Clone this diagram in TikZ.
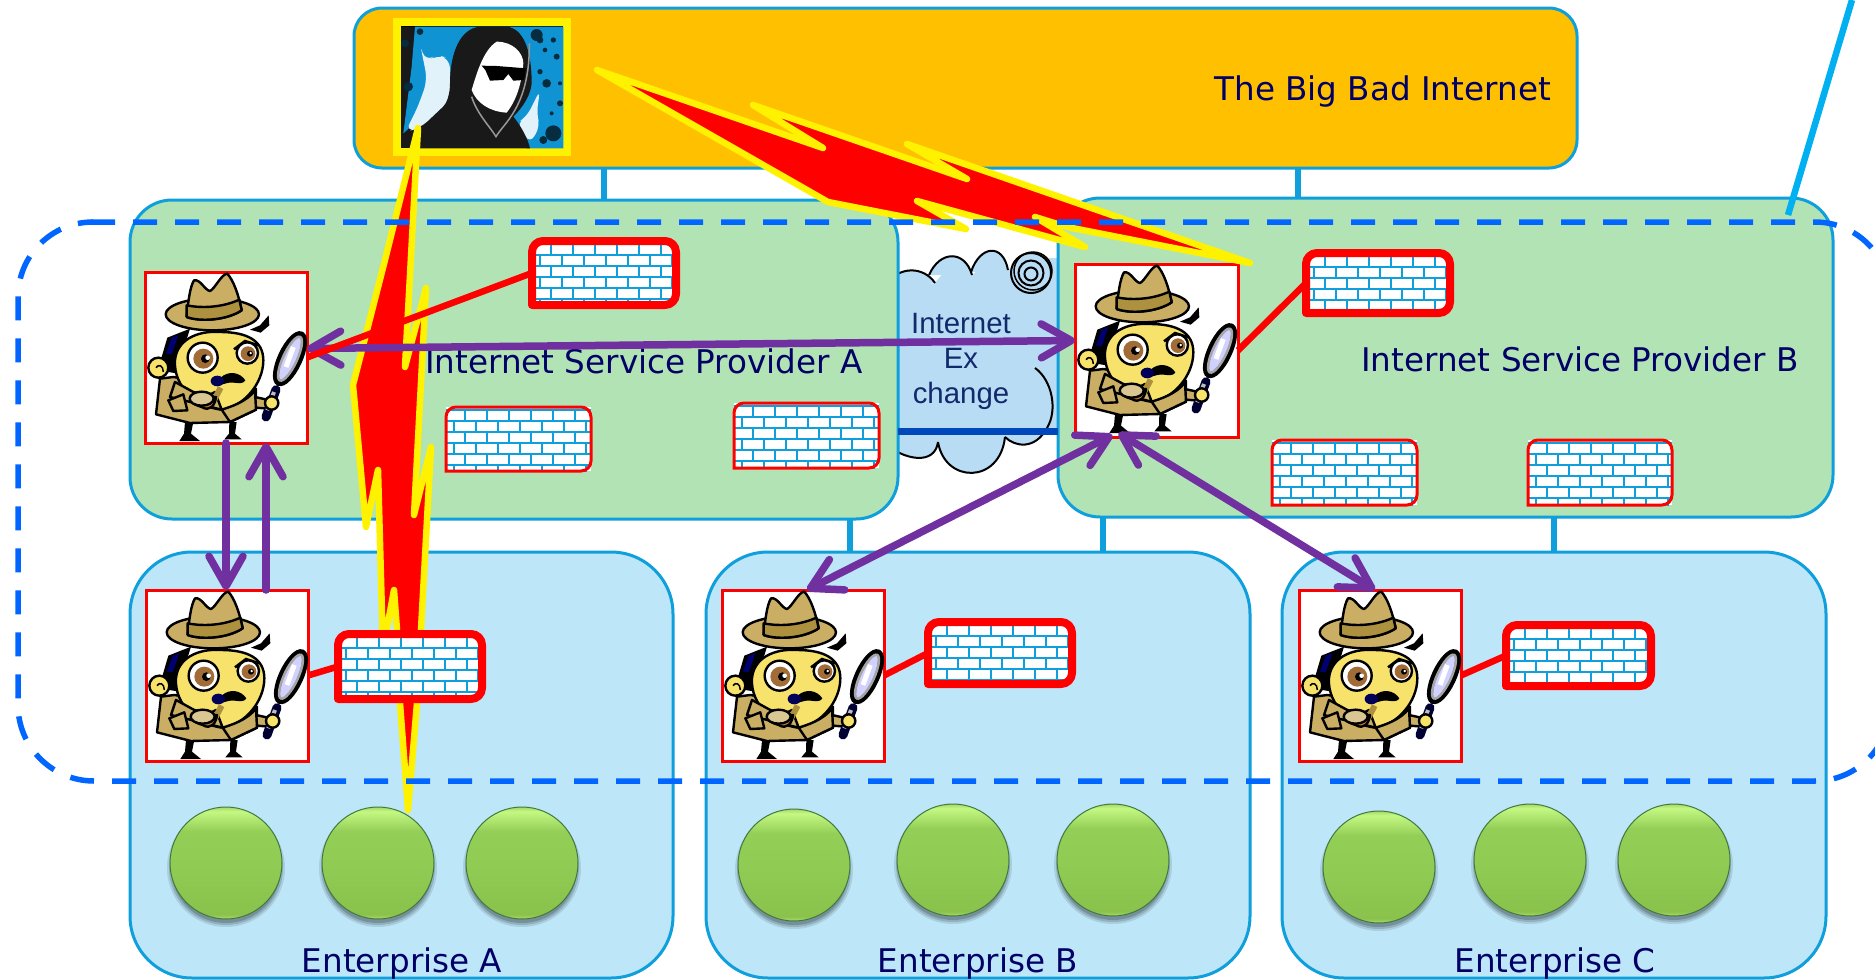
\documentclass[tikz,border=0pt]{standalone}
\usepackage{fontspec}
\setmainfont{DejaVu Sans}
\newfontfamily\arialf{Liberation Sans}
\usetikzlibrary{arrows.meta,calc,positioning}
\definecolor{navyt}{HTML}{000066}
\definecolor{edgeb}{HTML}{0E9FDC}
\definecolor{orangeb}{HTML}{FFC000}
\definecolor{greenb}{HTML}{B2E3B5}
\definecolor{skyb}{HTML}{BDE6F8}
\definecolor{cloudb}{HTML}{B8DCF4}
\definecolor{purp}{HTML}{7030A0}
\definecolor{dashb}{HTML}{0066FF}
\definecolor{tan1}{HTML}{C9AE63}
\definecolor{tan2}{HTML}{AD913F}
\definecolor{yel1}{HTML}{F7E26B}
\definecolor{uplinkc}{HTML}{00B0F0}
\definecolor{barc}{HTML}{0047BB}
\definecolor{ixpt}{HTML}{12296B}
\definecolor{splash}{HTML}{1093D2}
\definecolor{bsa}{HTML}{AEDC6C}
\definecolor{bsb}{HTML}{8AC24C}
\definecolor{bsc}{HTML}{8FCA52}
\definecolor{bsd}{HTML}{93CE56}
\definecolor{bse}{HTML}{B4EA74}
\definecolor{bsf}{HTML}{C3F882}
\definecolor{bsg}{HTML}{A8D868}
\pgfdeclareverticalshading{ballshade}{100bp}{color(0bp)=(bsa); color(25bp)=(bsa); color(27bp)=(bsb); color(45bp)=(bsc); color(64bp)=(bsd); color(70bp)=(bse); color(73bp)=(bsf); color(75bp)=(bsg); color(100bp)=(bsg)}
\tikzset{
  inetbox/.style={draw=edgeb,line width=3pt,fill=orangeb,rounded corners=28pt,anchor=north west,inner sep=0pt,outer sep=0pt},
  ispbox/.style={draw=edgeb,line width=3pt,fill=greenb,rounded corners=42pt,anchor=north west,inner sep=0pt,outer sep=0pt},
  entbox/.style={draw=edgeb,line width=3pt,fill=skyb,rounded corners=62pt,anchor=north west,inner sep=0pt,outer sep=0pt},
  stub/.style={draw=edgeb,line width=5.5pt},
  wallnode/.style={inner sep=0pt,outer sep=0pt},
  brick/.style={draw=edgeb,line width=2.4pt},
  thickwall/.style={draw=red,line width=8pt,rounded corners=11pt,line join=round},
  thinwall/.style={draw=red,line width=3pt,rounded corners=10pt},
  sleuthbox/.style={draw=red,line width=3pt,fill=white,anchor=north west,inner sep=0pt,outer sep=0pt},
  redlink/.style={draw=red,line width=6.5pt},
  bolt/.style={draw=yellow,fill=red,line width=6.5pt,line join=round},
  spy/.style={draw=purp,line width=7.5pt,line cap=round,>={Straight Barb[round,length=30pt,width=34pt,line width=7.5pt]}},
  perim/.style={draw=dashb,line width=5.5pt,dash pattern=on 24pt off 18pt},
  label/.style={text=navyt,font=\fontsize{32.6}{38}\selectfont,inner sep=0pt},
  ball/.style={circle,minimum size=112pt,inner sep=0pt,outer sep=0pt,shading=ballshade,draw=black!55!green!50!gray,line width=1pt},
  ink/.style={draw=black,line width=2.4pt,line join=round},
}
\newcommand\brickwall[6]{%
  \node[name=#1,wallnode,minimum width={(#4-#2)*1pt},minimum height={(#5-#3)*1pt}] at ({(#2+#4)/2},{(#3+#5)/2}) {};
  \begin{scope}
    \clip (#1.south west) rectangle (#1.north east);
    \fill[white] (#1.south west) rectangle (#1.north east);
    \foreach \r in {0,...,6} {
      \pgfmathsetmacro\yy{#3+\r*11+3}
      \pgfmathsetmacro\off{mod(\r,2)*11}
      \draw[brick] (#2,\yy) -- (#4,\yy);
      \foreach \k in {0,...,7} {
        \pgfmathsetmacro\xx{#2+\off+\k*22-3}
        \draw[brick] (\xx,\yy) -- (\xx,{\yy+11});
      }
    }
  \end{scope}
  \draw[#6] (#1.south west) -- (#1.north west) -- (#1.north east) -- (#1.south east) [sharp corners] -- cycle;
}
\newcommand\sleuth[1]{%
  \begin{scope}[shift={(#1.north west)},scale=1/3,shift={(-45,-65)}]
    \fill[black] (165,515)--(190,515)--(183,550)--(210,572)--(148,572)--(162,550)--cycle;
    \fill[black] (298,515)--(320,515)--(315,550)--(335,567)--(283,567)--(297,550)--cycle;
    \draw[ink,fill=tan1] (90,385)--(78,492)--(180,518)--(300,515)--(378,478)--(378,415)--(260,400)--(130,380)--cycle;
    \draw[ink,fill=tan1] (375,440)--(420,450)--(415,475)--(378,472)--cycle;
    \fill[black] (95,320)--(112,262)--(180,235)--(160,300)--(145,370)--(115,365)--cycle;
    \fill[blue!45!black] (108,310)--(125,262)--(145,255)--(125,312)--cycle;
    \draw[ink,fill=yel1] (135,330) .. controls (140,270) and (200,240) .. (270,245) .. controls (350,245) and (400,270) .. (400,330) .. controls (400,400) and (340,470) .. (275,478) .. controls (200,470) and (130,410) .. (135,330);
    \draw[ink,fill=tan1] (275,478)--(255,425)--(235,435)--(190,425)--(135,395)--(120,440)--cycle;
    \draw[ink,fill=tan1] (275,478) .. controls (300,470) and (350,455) .. (375,420) -- (378,478) -- (300,515) -- cycle;
    \fill[black] (360,238)--(390,225)--(416,195)--(418,225)--(392,247)--cycle;
    \draw[black,line width=2.5pt] (312,297)--(345,272)--(385,285);
    \draw[ink,fill=yel1] (85,352) circle[radius=30];
    \draw[black,line width=1.5pt] (78,352) .. controls (85,340) and (100,345) .. (100,365);
    \draw[ink,fill=tan1] (247,192) circle[x radius=140,y radius=48];
    \draw[ink,fill=tan1] (170,200) .. controls (175,150) and (180,110) .. (192,90) .. controls (210,85) and (225,120) .. (240,122) .. controls (255,115) and (275,70) .. (292,70) .. controls (310,90) and (325,130) .. (335,180) .. controls (290,210) and (210,215) .. (170,200);
    \draw[ink,fill=tan2] (170,165) .. controls (220,175) and (280,170) .. (328,148) -- (335,180) .. controls (290,210) and (210,215) .. (170,200) -- cycle;
    \draw[ink,fill=white] (218,322) circle[radius=45];
    \fill[brown!85!black] (220,325) circle[radius=30];
    \fill[black] (226,325) circle[radius=13];
    \fill[white] (233,322) circle[radius=7];
    \draw[ink,fill=white] (352,308) circle[radius=32];
    \fill[brown!85!black] (354,310) circle[radius=22];
    \fill[black] (360,310) circle[radius=9];
    \fill[white] (362,308) circle[radius=4];
    \fill[black] (272,382) .. controls (295,360) and (330,365) .. (346,390) .. controls (335,408) and (310,390) .. (285,400) -- (265,405) -- cycle;
    \fill[blue!35!black] (262,392) circle[x radius=20,y radius=16];
    \draw[line width=6pt,draw=tan2] (252,450)--(272,412);
    \draw[ink,fill=brown!80!orange] (215,470) .. controls (240,485) and (255,465) .. (258,440) -- (180,445) .. controls (185,460) and (200,465) .. (215,470);
    \draw[ink,fill=tan1!70!white] (215,445) circle[x radius=36,y radius=21];
    \draw[ink,fill=tan1] (115,450) -- (160,432) -- (172,480) -- (130,482) -- cycle;
    \draw[line width=9pt,draw=blue!20!black,line cap=round] (438,418)--(408,500);
    \draw[line width=4pt,draw=gray!50!white] (432,425)--(412,480);
    \draw[ink,fill=yel1] (425,458) circle[radius=20];
    \draw[draw=black,line width=6pt,fill=blue!18!white] (480,325) ellipse[x radius=28,y radius=80,rotate=-25];
    \draw[draw=gray!70!white,line width=2.5pt] (480,325) ellipse[x radius=21,y radius=72,rotate=-25];
    \draw[draw=white,line width=5pt] (468,350)--(490,290);
  \end{scope}
}
\begin{document}
\begin{tikzpicture}[x=1pt,y=-1pt]
\clip (0,0) rectangle (1875,980);
\fill[white] (0,0) rectangle (1875,980);

% cloud
\fill[cloudb] (880,290)--(900,278)--(934,284)--(950,265)--(972,275)--(993,258)--(1008,270)--(1031,258)--(1060,258)--(1060,431)--(1045,431)--(1030,443)--(1005,437)--(985,465)--(960,468)--(938,442)--(910,455)--(880,440)--cycle;
\draw[black,line width=2pt,fill=cloudb] (880,290) .. controls (900,262) and (925,268) .. (935,283);
\draw[black,line width=2pt,fill=cloudb] (929,275) .. controls (940,250) and (965,250) .. (972,275);
\draw[black,line width=2pt,fill=cloudb] (971,272) .. controls (980,245) and (1003,243) .. (1008,270);
\draw[black,line width=2pt,fill=cloudb] (1031,273) circle[radius=20];
\draw[black,line width=1.5pt] (1033,271) circle[radius=19];
\draw[black,line width=2pt] (1031,273) circle[radius=12.5];
\draw[black,line width=2pt] (1031,274) circle[radius=6.5];
\draw[black,line width=2pt] (1035,368) .. controls (1052,380) and (1058,410) .. (1047,428);
\draw[black,line width=2pt,fill=cloudb] (1047,428) .. controls (1035,450) and (1015,447) .. (1005,437);
\draw[black,line width=2pt,fill=cloudb] (1005,437) .. controls (1000,484) and (945,484) .. (938,442);
\draw[black,line width=2pt,fill=cloudb] (938,442) .. controls (935,465) and (905,462) .. (880,440);

% boxes
\node[inetbox,minimum width=1223pt,minimum height=160pt] (inet) at (354,8) {};
\node[ispbox,minimum width=768pt,minimum height=319pt] (ispa) at (130,200) {};
\node[ispbox,minimum width=775pt,minimum height=319pt] (ispb) at (1058,198) {};
\node[entbox,minimum width=543pt,minimum height=426pt] (enta) at (130,552) {};
\node[entbox,minimum width=544pt,minimum height=426pt] (entb) at (706,552) {};
\node[entbox,minimum width=544pt,minimum height=426pt] (entc) at (1282,552) {};

% stubs
\draw[stub] (604,0 |- inet.south) -- (604,0 |- ispa.north);
\draw[stub] (1298,0 |- inet.south) -- (1298,0 |- ispb.north);
\draw[stub] (850,0 |- ispa.south) -- (850,0 |- entb.north);
\draw[stub] (1103,0 |- ispb.south) -- (1103,0 |- entb.north);
\draw[stub] (1554,0 |- ispb.south) -- (1554,0 |- entc.north);

% exchange bar and text
\draw[draw=barc,line width=7pt] (ispa.east |- 0,431) -- (ispb.west |- 0,431);
\node[text=ixpt,font=\arialf\fontsize{29.4}{35}\selectfont,align=center,inner sep=0pt] (ixp) at (961,361) {Internet\\Ex\\change};

% labels
\node[label,anchor=east] (tinet) at (1551,92) {The Big Bad Internet};
\node[label,anchor=west] (tispa) at (425,361) {Internet Service Provider A};
\node[label,anchor=west] (tispb) at (1361,359) {Internet Service Provider B};
\node[label] (tenta) at (402,963) {Enterprise A};
\node[label] (tentb) at (978,963) {Enterprise B};
\node[label] (tentc) at (1555,963) {Enterprise C};

% hacker
\node[draw=yellow,line width=8pt,fill=black,minimum width=170pt,minimum height=130pt,anchor=north west,inner sep=0pt,outer sep=0pt] (hacker) at (397,22) {};
\begin{scope}[shift={(340,0)},scale=1/3]
  \clip (182,80) rectangle (670,445);
  \fill[black!90] (182,80) rectangle (670,445);
  \fill[splash] (225,80) -- (670,80) -- (670,445) -- (560,445) -- (300,300) -- (190,400) -- (205,280) -- (215,200) -- cycle;
  \fill[splash!12!white,rounded corners=10pt] (240,130) -- (255,185) -- (290,165) -- (330,175) -- (330,300) -- (240,385) -- (195,395) -- (225,340) -- (245,290) -- (262,240) -- cycle;
  \fill[splash!12!white,rounded corners=8pt] (560,350) -- (600,270) -- (590,340) -- (600,380) -- (570,430) -- (530,370) -- cycle;
  \foreach \x/\y/\r in {620/250/13,600/215/8,640/400/24,610/420/12,590/105/18,650/170/9,640/120/8,615/150/7,660/310/9,635/340/6,205/260/14,195/130/12,240/95/10,660/250/6,600/120/10}{\fill[splash!30!black] (\x,\y) circle[radius=\r];}
  \fill[black!90] (240,385) .. controls (300,350) and (330,310) .. (330,250) .. controls (330,160) and (360,85) .. (420,80) -- (500,80) .. controls (550,85) and (575,150) .. (575,250) .. controls (570,300) and (530,340) .. (520,350) .. controls (545,380) and (565,420) .. (570,445) -- (240,445) -- cycle;
  \fill[white] (470,125) .. controls (520,125) and (550,160) .. (550,190) .. controls (545,250) and (530,300) .. (500,338) .. controls (450,335) and (410,310) .. (395,270) .. controls (410,220) and (430,150) .. (470,125);
  \draw[gray!80,line width=1.5pt] (395,290) .. controls (410,340) and (450,380) .. (468,410) .. controls (490,370) and (570,320) .. (568,130);
  \fill[black] (425,197) -- (470,198) -- (558,205) -- (552,240) -- (520,242) -- (505,222) -- (490,240) -- (450,242) -- (436,210) -- cycle;
\end{scope}

% firewalls and detectives behind the bolts
\brickwall{fwa}{532}{241}{676}{305}{thickwall}
\brickwall{fwb}{1306}{253}{1450}{313}{thickwall}
\brickwall{tha}{446}{407}{591}{471}{thinwall}
\brickwall{thb}{734}{403}{879}{468}{thinwall}
\brickwall{thc}{1272}{440}{1417}{505}{thinwall}
\brickwall{thd}{1528}{440}{1672}{505}{thinwall}
\brickwall{fwd}{928}{622}{1072}{684}{thickwall}
\brickwall{fwe}{1506}{625}{1651}{686}{thickwall}

\node[sleuthbox,minimum width=162pt,minimum height=171pt] (da) at (145,272) {};
\node[sleuthbox,minimum width=162pt,minimum height=171pt] (db) at (146,590) {};
\node[sleuthbox,minimum width=162pt,minimum height=171pt] (dc) at (722,590) {};
\node[sleuthbox,minimum width=162pt,minimum height=171pt] (dd) at (1299,590) {};
\node[sleuthbox,minimum width=163pt,minimum height=173pt] (de) at (1075,264) {};
\sleuth{da}\sleuth{db}\sleuth{dc}\sleuth{dd}\sleuth{de}

% balls
\foreach \n/\x/\y in {a1/226/863,a2/378/863,a3/522/863,b1/794/865,b2/953/860,b3/1113/860,c1/1379/867,c2/1530/860,c3/1674/860}{
  \foreach \r/\o in {59/.10,57/.14,55/.18}{\fill[black,opacity=\o] (\x,\y+5) circle[radius=\r];}
  \node[ball] (\n) at (\x,\y) {};
}

% bolts
\draw[bolt] (418,128)--(405,367)--(426,288)--(414,515)--(431,447)--(417,703)--(408,810)--(400,703)--(397,630)--(394,590)--(383,650)--(378,470)--(366,527)--(353,385)--(385,260)--cycle;
\draw[bolt] (597,70)--(823,148)--(753,105)--(967,179)--(907,144)--(1250,263)--(1067,227)--(1035,217)--(1085,247)--(917,201)--(966,229)--(828,202)--cycle;

\brickwall{fwc}{338}{634}{482}{699}{thickwall}

% spy arrows
\draw[spy,<->] ([yshift=9pt]da.east) -- ([yshift=10pt]de.west);
\draw[spy,->] (226,0 |- da.south) -- (226,0 |- db.north);
\draw[spy,->] (266,0 |- db.north) -- (266,0 |- da.south);
\draw[spy,<->] ([xshift=-44pt,yshift=2pt]de.south) -- ([xshift=4pt]dc.north);
\draw[spy,<->] ([xshift=-38pt,yshift=4pt]de.south) -- ([xshift=-5pt]dd.north);

% red links
\draw[redlink] (fwa.west) -- (da.east);
\draw[redlink] (fwb.west) -- (de.east);
\draw[redlink] (fwc.west) -- (db.east);
\draw[redlink] (fwd.west) -- (dc.east);
\draw[redlink] (fwe.west) -- (dd.east);

% perimeter
\draw[perim] (91,222) -- (1815,222) arc[start angle=-90,end angle=0,radius=75] -- (1890,300);
\draw[perim] (112,781) -- (1815,781) arc[start angle=90,end angle=0,radius=75];
\draw[perim] (94,781) arc[start angle=90,end angle=180,radius=76] -- (18,297) arc[start angle=180,end angle=270,radius=75];

% uplink
\coordinate (upa) at (1788,215);
\coordinate (upb) at (1852,0);
\draw[draw=uplinkc,line width=6.5pt] (upa) -- (upb);
\end{tikzpicture}
\end{document}
